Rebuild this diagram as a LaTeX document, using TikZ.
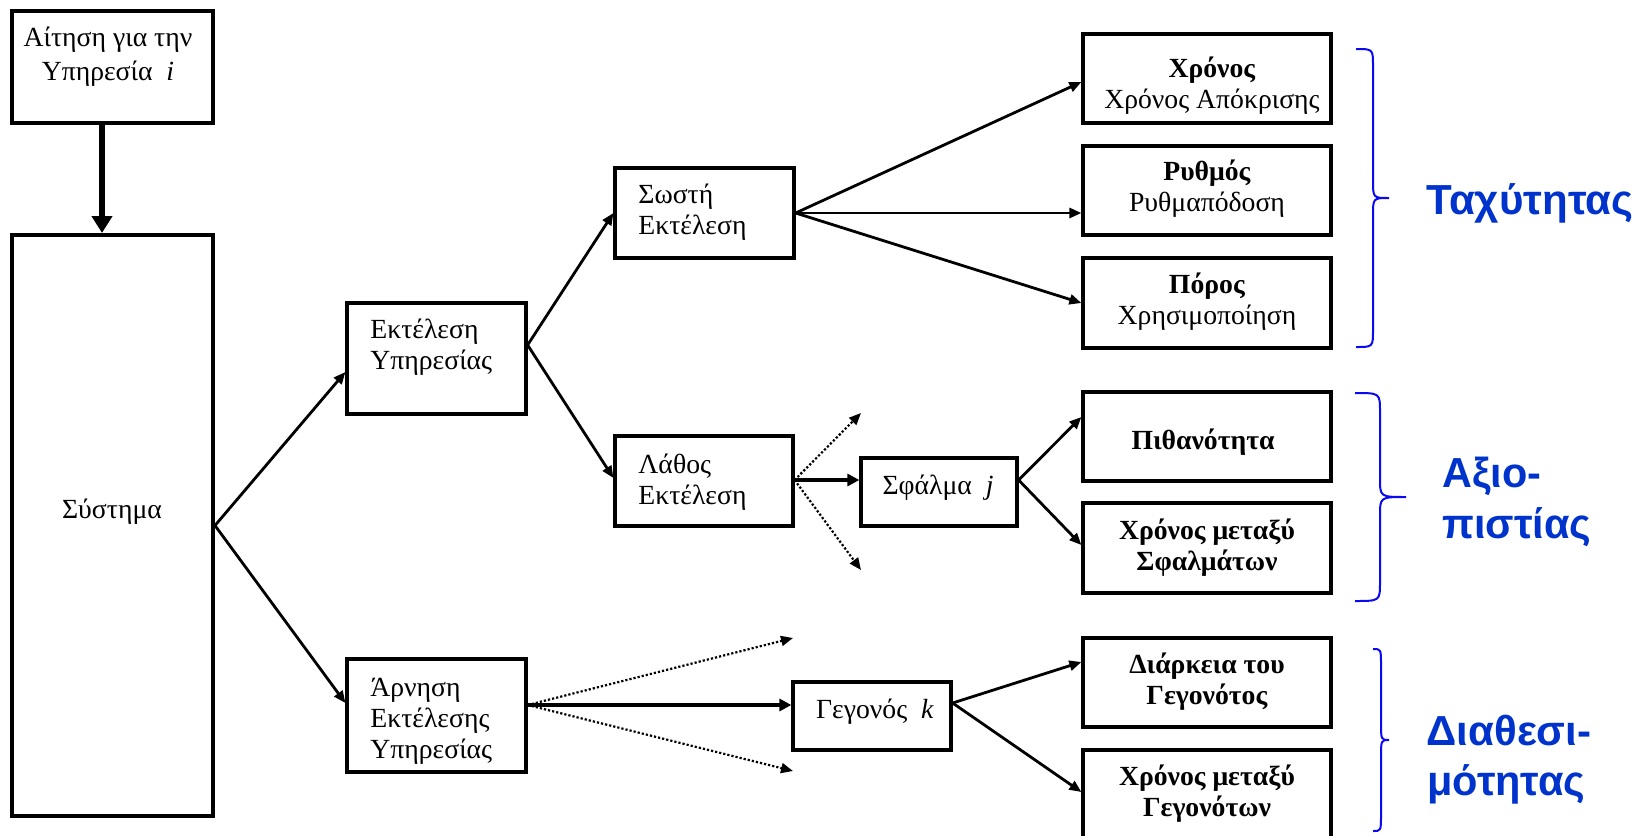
\documentclass[tikz,border=0pt]{standalone}
\usepackage{graphicx}
\usepackage{fontspec}
\setmainfont{Liberation Serif}
\newfontfamily\labelfont{Liberation Sans}
\usetikzlibrary{arrows.meta,fit,calc}
\definecolor{labelblue}{RGB}{0,51,204}
\definecolor{braceblue}{RGB}{10,10,240}
\tikzset{
  box/.style={draw, line width=1.6pt, inner sep=0pt},
  bigbox/.style={box, line width=2pt},
  txt/.style={inner sep=0pt, font=\fontsize{13.85}{15.5}\selectfont, align=left},
  ctxt/.style={txt, align=center},
  conn/.style={line width=1.4pt, -{Triangle[length=6pt,width=5pt]}},
  thickconn/.style={line width=2.4pt, -{Triangle[length=6pt,width=6pt]}},
  dotconn/.style={line width=1.1pt, densely dotted, -{Triangle[length=6pt,width=5pt]}},
  mainconn/.style={line width=3pt, -{Triangle[length=8.5pt,width=10pt]}},
  bracepath/.style={draw=braceblue, line width=1pt},
  bluelabel/.style={inner sep=0pt, text=labelblue, anchor=base west, font=\labelfont\bfseries\fontsize{21}{25}\selectfont},
}
\begin{document}
\begin{tikzpicture}[x=0.5pt,y=-0.5pt]
\useasboundingbox (0,0) rectangle (1646,836);
\clip (0,0) rectangle (1646,836);
% boxes
\node[bigbox, fit={(12,11) (213,123)}] (req) {};
\node[bigbox, fit={(12,235) (213,816)}] (sys) {};
\node[box, fit={(347,303) (526,414)}] (ekt) {};
\node[box, fit={(347,659) (526,772)}] (arn) {};
\node[box, fit={(615,168) (794,258)}] (sos) {};
\node[box, fit={(615,436) (793,526)}] (lat) {};
\node[box, fit={(861,458) (1017,526)}] (sf) {};
\node[box, fit={(793,682) (951,750)}] (gg) {};
\node[box, fit={(1083,34) (1331,123)}] (r1) {};
\node[box, fit={(1083,146) (1331,235)}] (r2) {};
\node[box, fit={(1083,258) (1331,348)}] (r3) {};
\node[box, fit={(1083,392) (1331,481)}] (r4) {};
\node[box, fit={(1083,503) (1331,593)}] (r5) {};
\node[box, fit={(1083,638) (1331,727)}] (r6) {};
\node[box, fit={(1083,750) (1331,850)}] (r7) {};
% texts
\node[ctxt, font=\fontsize{13.85}{17}\selectfont] (reqT) at (108,57) {Αίτηση για την\\Υπηρεσία~~\textit{i}};
\node[ctxt] (sysT) at (112,512) {Σύστημα};
\node[txt, anchor=west] (ektT) at (370,347.5) {Εκτέλεση\\Υπηρεσίας};
\node[txt, anchor=west] (arnT) at (370,721) {Άρνηση\\Εκτέλεσης\\Υπηρεσίας};
\node[txt, anchor=west] (sosT) at (638,212) {Σωστή\\Εκτέλεση};
\node[txt, anchor=west] (latT) at (638,482.5) {Λάθος\\Εκτέλεση};
\node[ctxt] (sfT) at (938,488) {Σφάλμα~~\textit{j}};
\node[ctxt] (ggT) at (875,712) {Γεγονός~~\textit{k}};
\node[ctxt] (r1T) at (1212,86) {\textbf{Χρόνος}\\Χρόνος Απόκρισης};
\node[ctxt] (r2T) at (1207,189) {\textbf{Ρυθμός}\\Ρυθμαπόδοση};
\node[ctxt] (r3T) at (1207,301.5) {\textbf{Πόρος}\\Χρησιμοποίηση};
\node[ctxt] (r4T) at (1203,442) {\textbf{Πιθανότητα}};
\node[ctxt] (r5T) at (1207,547.5) {\textbf{Χρόνος μεταξύ}\\\textbf{Σφαλμάτων}};
\node[ctxt] (r6T) at (1207,681.5) {\textbf{Διάρκεια του}\\\textbf{Γεγονότος}};
\node[ctxt] (r7T) at (1207,793.5) {\textbf{Χρόνος μεταξύ}\\\textbf{Γεγονότων}};
% free ends of dotted arrows
\coordinate (latUp) at (861,413);
\coordinate (latDown) at (861,570);
\coordinate (arnUp) at (793,638);
\coordinate (arnDown) at (793,771);
% connectors
\draw[mainconn] ([xshift=-5.25pt]req.south) -- ([xshift=-5.25pt]sys.north);
\draw[conn] (sys.east) -- ([yshift=-6.75pt]ekt.west);
\draw[conn] (sys.east) -- ([yshift=6.25pt]arn.west);
\draw[conn] ([yshift=6.75pt]ekt.east) -- (sos.west);
\draw[conn] ([yshift=6.75pt]ekt.east) -- ([yshift=1.5pt]lat.west);
\draw[conn] (sos.east) -- ([yshift=-1.75pt]r1.west);
\draw[conn] (sos.east) -- ([yshift=-11.25pt]r2.west);
\draw[conn] (sos.east) -- (r3.west);
\draw[thickconn] ([yshift=0.5pt]lat.east) -- ([yshift=6pt]sf.west);
\draw[dotconn] ([yshift=0.5pt]lat.east) -- (latUp);
\draw[dotconn] ([yshift=0.5pt]lat.east) -- (latDown);
\draw[conn] ([yshift=6pt]sf.east) -- ([yshift=9.75pt]r4.west);
\draw[conn] ([yshift=6pt]sf.east) -- ([yshift=1.5pt]r5.west);
\draw[thickconn] ([yshift=5.25pt]arn.east) -- ([yshift=5.5pt]gg.west);
\draw[dotconn] ([yshift=5.25pt]arn.east) -- (arnUp);
\draw[dotconn] ([yshift=5.25pt]arn.east) -- (arnDown);
\draw[conn] ([yshift=6.5pt]gg.east) -- ([yshift=10.25pt]r6.west);
\draw[conn] ([yshift=6.5pt]gg.east) -- ([yshift=4pt]r7.west);
% braces
\draw[bracepath] (1356,49) .. controls (1373,49) .. (1373,66) -- (1373,180) .. controls (1373,198) .. (1389,198) .. controls (1373,198) .. (1373,216) -- (1373,330) .. controls (1373,347) .. (1356,347);
\draw[bracepath] (1355,393) .. controls (1380,393) .. (1380,412) -- (1380,478) .. controls (1380,497) .. (1406,497) .. controls (1380,497) .. (1380,516) -- (1380,582) .. controls (1380,601) .. (1355,601);
\draw[bracepath] (1373,649) .. controls (1381,649) .. (1381,665) -- (1381,722) .. controls (1381,740) .. (1389,740) .. controls (1381,740) .. (1381,758) -- (1381,815) .. controls (1381,831) .. (1373,831);
% blue labels
\node[bluelabel] (lblA) at (1426,214) {\resizebox{103.5pt}{\height}{Ταχύτητας}};
\node[bluelabel] (lblB1) at (1442,487) {\resizebox{49.5pt}{\height}{Αξιο-}};
\node[bluelabel] (lblB2) at (1442,538) {\resizebox{74.5pt}{\height}{πιστίας}};
\node[bluelabel] (lblC1) at (1426,745) {\resizebox{82.5pt}{\height}{Διαθεσι-}};
\node[bluelabel] (lblC2) at (1427,795) {\resizebox{79pt}{\height}{μότητας}};
\end{tikzpicture}
\end{document}
